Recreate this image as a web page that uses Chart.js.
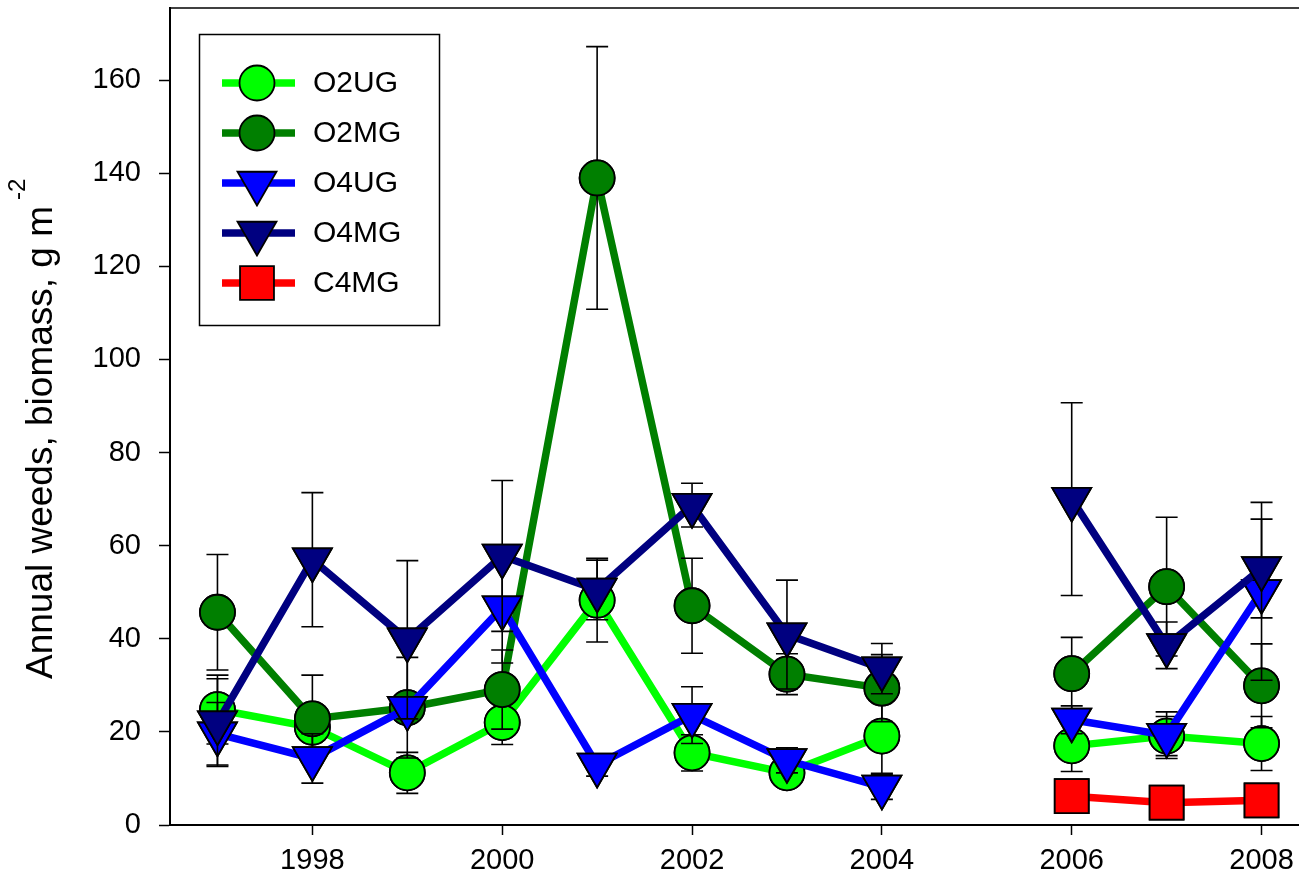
<!DOCTYPE html>
<html>
<head>
<meta charset="utf-8">
<script src="https://cdn.jsdelivr.net/npm/chart.js@4.4.1/dist/chart.umd.min.js"></script>
<style>
  html, body { margin: 0; padding: 0; background: #fff; overflow: hidden; }
  canvas { display: block; }
</style>
</head>
<body>
<canvas id="weedChart" width="1330" height="890"></canvas>
<script>
// Années (2005 sans mesure -> trou dans les courbes)
const years = [1997, 1998, 1999, 2000, 2001, 2002, 2003, 2004, 2005, 2006, 2007, 2008];
const xTicks = [1998, 2000, 2002, 2004, 2006, 2008];
const yTicks = [0, 20, 40, 60, 80, 100, 120, 140, 160];

// Biomasse (g m-2) et erreurs standard
const o2ug    = [24.8, 21.0, 11.2, 22.0, 48.3, 15.5, 11.2, 19.1, null, 17.0, 19.1, 17.5];
const o2ugErr = [7.4, 1.2, 4.4, 4.7, 9.0, 3.9, 1.0, 8.0, null, 5.5, 4.2, 5.8];
const o2mg    = [45.7, 22.8, 25.2, 29.1, 139.0, 47.1, 32.4, 29.4, null, 32.5, 51.2, 29.9];
const o2mgErr = [12.4, 9.4, 10.8, 8.5, 28.2, 10.2, 4.4, 7.2, null, 7.8, 14.9, 9.0];
const o4ug    = [19.6, 14.3, 25.1, 46.7, 12.9, 23.6, 13.9, 8.2, null, 22.6, 19.3, 50.2];
const o4ugErr = [6.7, 5.3, 1.0, 11.9, 2.4, 6.1, 2.7, 2.7, null, 3.0, 5.0, 19.1];
const o4mg    = [22.0, 57.0, 39.8, 57.8, 50.5, 68.7, 40.9, 33.6, null, 70.0, 38.6, 55.1];
const o4mgErr = [9.4, 14.4, 17.0, 16.2, 6.4, 4.7, 11.7, 5.4, null, 20.7, 5.0, 10.6];
const c4mg    = [null, null, null, null, null, null, null, null, null, 6.2, 4.8, 5.3];
const c4mgErr = [null, null, null, null, null, null, null, null, null, 0.5, 0.5, 0.5];

const FONT = "'Liberation Sans', Arial, sans-serif";
// zone de tracé voulue (en px)
const AREA = { left: 170, top: 8, right: 1309, bottom: 825 };

// Style de chaque série (ordre = ordre de la légende)
const series = [
  { name: 'O2UG', values: o2ug, err: o2ugErr, color: '#00ff00', style: 'circle',   rot: 0,   r: 17.5, order: 5 },
  { name: 'O2MG', values: o2mg, err: o2mgErr, color: '#007f00', style: 'circle',   rot: 0,   r: 17.5, order: 4 },
  { name: 'O4UG', values: o4ug, err: o4ugErr, color: '#0000ff', style: 'triangle', rot: 180, r: 22.5, order: 3 },
  { name: 'O4MG', values: o4mg, err: o4mgErr, color: '#000080', style: 'triangle', rot: 180, r: 22.5, order: 2 },
  { name: 'C4MG', values: c4mg, err: c4mgErr, color: '#ff0000', style: 'rect',     rot: 0,   r: 24,   order: 1 }
];

// On force la géométrie de la zone de tracé après le calcul du layout
const fixedArea = {
  id: 'fixedArea',
  afterLayout(chart) {
    const ca = chart.chartArea;
    ca.left = AREA.left; ca.top = AREA.top; ca.right = AREA.right; ca.bottom = AREA.bottom;
    ca.width = AREA.right - AREA.left; ca.height = AREA.bottom - AREA.top;
    const x = chart.scales.x, y = chart.scales.y;
    x.left = AREA.left; x.right = AREA.right; x.width = ca.width;
    x.top = AREA.bottom; x.bottom = chart.height; x.height = chart.height - AREA.bottom;
    y.left = 0; y.right = AREA.left; y.width = AREA.left;
    y.top = AREA.top; y.bottom = AREA.bottom; y.height = ca.height;
    x.configure();
    y.configure();
  }
};

// Barres d'erreur : tracées après la ligne, puis on redessine les marqueurs par-dessus
const errorBars = {
  id: 'errorBars',
  afterDatasetDraw(chart, args) {
    const ds = chart.data.datasets[args.index];
    const yScale = chart.scales.y;
    const ctx = chart.ctx;
    ctx.save();
    ctx.strokeStyle = '#000';
    ctx.lineWidth = 1.6;
    args.meta.data.forEach((pt, i) => {
      const v = ds.data[i].y;
      const e = ds.errors[i];
      if (v == null || e == null) return;
      const top = yScale.getPixelForValue(v + e);
      const bot = yScale.getPixelForValue(v - e);
      ctx.beginPath();
      ctx.moveTo(pt.x, top);
      ctx.lineTo(pt.x, bot);
      ctx.moveTo(pt.x - 11, top);
      ctx.lineTo(pt.x + 11, top);
      ctx.moveTo(pt.x - 11, bot);
      ctx.lineTo(pt.x + 11, bot);
      ctx.stroke();
    });
    ctx.restore();
    args.meta.data.forEach(pt => pt.draw(ctx, chart.chartArea));
  }
};

// Cadre du haut, titre de l'axe Y (avec exposant) et légende encadrée
const decorations = {
  id: 'decorations',
  beforeDatasetsDraw(chart) {
    const { ctx, chartArea } = chart;
    ctx.save();
    ctx.strokeStyle = '#000';
    ctx.lineWidth = 1.5;
    ctx.beginPath();
    ctx.moveTo(chartArea.left, chartArea.top);
    ctx.lineTo(chart.width, chartArea.top);
    ctx.stroke();
    ctx.restore();
  },
  afterDraw(chart) {
    const ctx = chart.ctx;

    // titre vertical
    ctx.save();
    ctx.translate(52, 679);
    ctx.rotate(-Math.PI / 2);
    ctx.fillStyle = '#000';
    ctx.textBaseline = 'alphabetic';
    ctx.font = '37px ' + FONT;
    const main = 'Annual weeds, biomass, g m';
    ctx.fillText(main, 0, 0);
    const w = ctx.measureText(main).width;
    ctx.font = '24px ' + FONT;
    ctx.fillText('-2', w + 6, -27);
    ctx.restore();

    // légende
    ctx.save();
    ctx.strokeStyle = '#000';
    ctx.lineWidth = 1.5;
    ctx.strokeRect(199.5, 34.5, 240, 291);
    chart.data.datasets.forEach((ds, i) => {
      const y = 83 + i * 50;
      ctx.strokeStyle = ds.borderColor;
      ctx.lineWidth = 7.5;
      ctx.beginPath();
      ctx.moveTo(222, y);
      ctx.lineTo(295, y);
      ctx.stroke();
      ctx.fillStyle = ds.pointBackgroundColor;
      ctx.strokeStyle = '#000';
      ctx.lineWidth = ds.pointBorderWidth;
      Chart.helpers.drawPoint(ctx, {
        pointStyle: ds.pointStyle,
        rotation: ds.pointRotation,
        radius: ds.pointRadius,
        borderWidth: ds.pointBorderWidth
      }, 257, y);
      ctx.fillStyle = '#000';
      ctx.font = '30px ' + FONT;
      ctx.textBaseline = 'middle';
      ctx.fillText(ds.label, 313, y + 1);
    });
    ctx.restore();
  }
};

const datasets = series.map(s => ({
  label: s.name,
  data: years.map((yr, i) => ({ x: yr, y: s.values[i] })),
  errors: s.err,
  borderColor: s.color,
  backgroundColor: s.color,
  borderWidth: 7.5,
  pointStyle: s.style,
  pointRotation: s.rot,
  pointRadius: s.r,
  pointHoverRadius: s.r,
  pointBackgroundColor: s.color,
  pointBorderColor: '#000',
  pointBorderWidth: 1.8,
  spanGaps: false,
  tension: 0,
  clip: false,
  order: s.order
}));

new Chart(document.getElementById('weedChart'), {
  type: 'line',
  data: { datasets },
  options: {
    responsive: false,
    animation: false,
    events: [],
    plugins: { legend: { display: false }, tooltip: { enabled: false } },
    scales: {
      x: {
        type: 'linear',
        min: 1996.5,
        max: 2008.5,
        afterBuildTicks: s => { s.ticks = xTicks.map(v => ({ value: v })); },
        grid: { drawOnChartArea: false, drawTicks: true, tickLength: 10, tickWidth: 1.5, tickColor: '#000' },
        border: { display: true, color: '#000', width: 2 },
        ticks: {
          color: '#000',
          padding: 9,
          maxRotation: 0,
          font: { family: FONT, size: 29 },
          callback: v => String(v)
        }
      },
      y: {
        min: 0,
        max: 175.5,
        afterBuildTicks: s => { s.ticks = yTicks.map(v => ({ value: v })); },
        grid: { drawOnChartArea: false, drawTicks: true, tickLength: 11, tickWidth: 1.5, tickColor: '#000' },
        border: { display: true, color: '#000', width: 2 },
        ticks: {
          color: '#000',
          padding: 18,
          font: { family: FONT, size: 29 },
          callback: v => String(v)
        }
      }
    }
  },
  plugins: [fixedArea, errorBars, decorations]
});
</script>
</body>
</html>
